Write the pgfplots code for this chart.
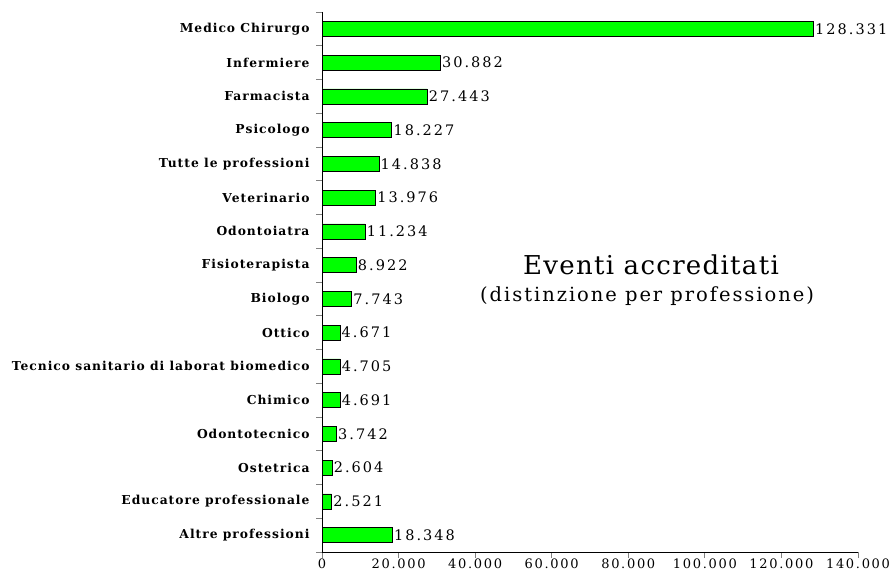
\documentclass[border=0pt]{standalone}
\usepackage{fontspec}
\setmainfont{DejaVu Serif}
\usepackage{pgfplots}
\pgfplotsset{compat=1.18}
\usepackage{pgfplotstable}
\pgfplotstableread[col sep=comma]{
y,x,lab
0,128331,128.331
1,30882,30.882
2,27443,27.443
3,18227,18.227
4,14838,14.838
5,13976,13.976
6,11234,11.234
7,8922,8.922
8,7743,7.743
9,4671,4.671
10,4705,4.705
11,4691,4.691
12,3742,3.742
13,2604,2.604
14,2521,2.521
15,18348,18.348
}\datatab
\definecolor{bargreen}{RGB}{0,255,0}
\begin{document}
\begin{tikzpicture}
\useasboundingbox (0,0) rectangle (891pt,575pt);
\begin{axis}[
  at={(322pt,23pt)}, anchor=south west,
  scale only axis, width=536pt, height=540pt,
  xmin=0, xmax=140000, ymin=-0.5, ymax=15.5,
  y dir=reverse,
  axis lines=left, axis line style={-, black, line width=0.8pt},
  xbar, bar width=15pt, bar shift=0pt,
  scaled x ticks=false,
  xtick={0,20000,...,140000},
  xticklabels={0,20.000,40.000,60.000,80.000,100.000,120.000,140.000},
  x tick label style={font=\fontsize{13}{13}\selectfont\addfontfeature{LetterSpace=13}, yshift=2.5pt},
  ytick={0,...,15},
  yticklabels={Medico Chirurgo,Infermiere,Farmacista,Psicologo,Tutte le professioni,Veterinario,Odontoiatra,Fisioterapista,Biologo,Ottico,Tecnico sanitario di laborat biomedico,Chimico,Odontotecnico,Ostetrica,Educatore professionale,Altre professioni},
  y tick label style={font=\fontsize{12.3}{12.3}\selectfont\bfseries\addfontfeature{LetterSpace=8}, xshift=-3pt},
  major y tick style={draw=none},
  minor ytick={-0.5,0.5,...,15.5},
  minor tick length=6pt,
  minor y tick style={gray, line width=0.8pt},
  major x tick style={gray, line width=0.8pt},
  major tick length=6pt,
  tick align=outside,
  nodes near coords,
  point meta=explicit symbolic,
  every node near coord/.append style={font=\fontsize{14.5}{14.5}\selectfont\addfontfeature{LetterSpace=14}, inner xsep=1.5pt, anchor=west},
  clip=false,
]
\addplot[draw=black, fill=bargreen, line width=0.6pt] table[x=x, y=y, meta=lab] {\datatab};
\node at (axis cs:85930,7.0) {\fontsize{26}{28}\selectfont\addfontfeature{LetterSpace=5}Eventi accreditati};
\node at (axis cs:84900,7.92) {\fontsize{19.5}{21}\selectfont\addfontfeature{LetterSpace=10}(distinzione per professione)};
\end{axis}
\end{tikzpicture}
\end{document}
